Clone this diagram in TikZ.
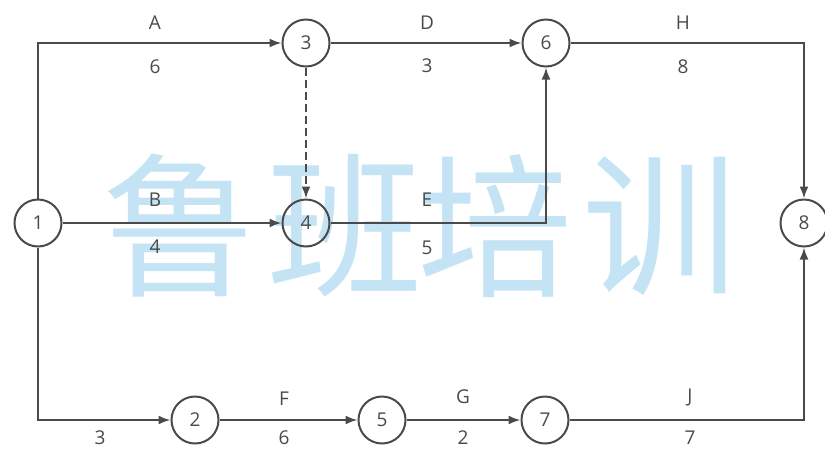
\documentclass[tikz,border=0pt]{standalone}
\usepackage{fontspec}
\setmainfont{Open Sans}
\newfontfamily\cjk{Noto Sans CJK SC}
\usetikzlibrary{arrows.meta}
\definecolor{ln}{HTML}{4A4A4A}
\definecolor{wm}{HTML}{C4E3F5}
\begin{document}
\begin{tikzpicture}[x=1pt,y=-1pt,
  ev/.style={circle,draw=ln,line width=2pt,minimum size=47pt,inner sep=0pt,
    font=\fontsize{19}{19}\selectfont,text=ln,fill=none},
  lab/.style={font=\fontsize{19}{19}\selectfont,text=ln,inner sep=0pt},
  wmark/.style={text=wm,font=\cjk\fontsize{155}{155}\selectfont,inner sep=0pt},
  act/.style={draw=ln,line width=2pt,-{Latex[length=12pt,width=9pt]}},
  dum/.style={act,dash pattern=on 8pt off 4pt}]
\useasboundingbox (0,0) rectangle (825,448);
% watermark
\node[wmark] (w1) at (180,226) {鲁};
\node[wmark] (w2) at (345,226) {班};
\node[wmark] (w3) at (495,226) {培};
\node[wmark] (w4) at (660,226) {训};
% events
\node[ev] (n1) at (38,223) {1};
\node[ev] (n3) at (306,43) {3};
\node[ev] (n6) at (546,43) {6};
\node[ev] (n4) at (306,223) {4};
\node[ev] (n8) at (804,223) {8};
\node[ev] (n2) at (195,420) {2};
\node[ev] (n5) at (382,420) {5};
\node[ev] (n7) at (545,420) {7};
% activities
\draw[act] (n1.north) |- (n3.west);
\draw[dum] (n3) -- (n4);
\draw[act] (n1) -- (n4);
\draw[act] (n3) -- (n6);
\draw[act] (n4.east) -| (n6.south);
\draw[act] (n6.east) -| (n8.north);
\draw[act] (n1.south) |- (n2.west);
\draw[act] (n2) -- (n5);
\draw[act] (n5) -- (n7);
\draw[act] (n7.east) -| (n8.south);
% labels
\node[lab] (lA) at (155,23) {A};
\node[lab] (dA) at (155,67) {6};
\node[lab] (lB) at (155,200) {B};
\node[lab] (dB) at (155,247) {4};
\node[lab] (lD) at (427,23) {D};
\node[lab] (dD) at (427,66) {3};
\node[lab] (lH) at (683,23) {H};
\node[lab] (dH) at (683,67) {8};
\node[lab] (lE) at (427,200) {E};
\node[lab] (dE) at (427,248) {5};
\node[lab] (d12) at (100,438) {3};
\node[lab] (lF) at (284,399) {F};
\node[lab] (dF) at (284,438) {6};
\node[lab] (lG) at (463,397) {G};
\node[lab] (dG) at (463,438) {2};
\node[lab] (lJ) at (690,397) {J};
\node[lab] (dJ) at (690,438) {7};
\end{tikzpicture}
\end{document}
